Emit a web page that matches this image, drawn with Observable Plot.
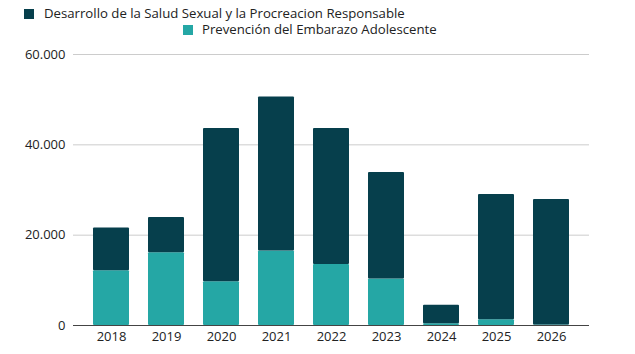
<!DOCTYPE html>
<html><head><meta charset="utf-8">
<script src="https://cdn.jsdelivr.net/npm/d3@7"></script>
<script src="https://cdn.jsdelivr.net/npm/@observablehq/plot@0.6"></script>
<style>
body{margin:0;background:#fff;font-family:"Open Sans",sans-serif;}
#wrap{position:relative;width:635px;height:354px;}
.leg{position:absolute;font-size:13.2px;color:#222;white-space:nowrap;line-height:16px;}
.sw{position:absolute;width:10px;height:10px;}
#chart{position:absolute;left:0;top:42px;}
</style></head>
<body>
<div id="wrap">
  <div class="sw" style="left:24px;top:9px;background:#063f4c"></div>
  <div class="leg" style="left:44px;top:5px;">Desarrollo de la Salud Sexual y la Procreacion Responsable</div>
  <div class="sw" style="left:183px;top:25px;background:#25a7a5"></div>
  <div class="leg" style="left:202px;top:21px;">Prevención del Embarazo Adolescente</div>
  <div id="chart"></div>
</div>
<script>
const years = ["2018","2019","2020","2021","2022","2023","2024","2025","2026"];
const salud = [9500, 7800, 33900, 34100, 30100, 23600, 4100, 27700, 27800];
const embarazo = [12100, 16100, 9700, 16500, 13500, 10300, 400, 1300, 100];
const seriesNames = ["Prevención del Embarazo Adolescente", "Desarrollo de la Salud Sexual y la Procreacion Responsable"];
const colors = ["#25a7a5", "#063f4c"];
const yTicks = [0, 20000, 40000, 60000];

const data = [];
years.forEach((y, i) => {
  data.push({year: y, serie: seriesNames[0], value: embarazo[i]});
  data.push({year: y, serie: seriesNames[1], value: salud[i]});
});
const fmt = d => d3.format(",")(d).replace(/,/g, ".");

const plot = Plot.plot({
  width: 635, height: 312,
  marginLeft: 73, marginRight: 46, marginTop: 12, marginBottom: 29,
  style: {fontFamily: "Open Sans, sans-serif", fontSize: "13px", color: "#222", background: "#fff"},
  x: {domain: years, padding: 0.35, label: null, tickSize: 0, tickPadding: 6},
  y: {domain: [0, 60000], ticks: yTicks, tickFormat: fmt, label: null, grid: false},
  color: {domain: seriesNames, range: colors},
  marks: [
    Plot.ruleY(yTicks.filter(t => t > 0), {stroke: "#ccc", strokeWidth: 1}),
    Plot.axisY({ticks: yTicks, tickFormat: fmt, tickSize: 0, tickPadding: 8, label: null, fontSize: 13}),
    Plot.axisX({tickSize: 0, tickPadding: 6, label: null, fontSize: 13}),
    Plot.barY(data, {x: "year", y: "value", fill: "serie", order: seriesNames, rx: 1}),
    Plot.ruleY([0], {stroke: "#444", strokeWidth: 1})
  ]
});
document.getElementById("chart").appendChild(plot);
</script>
</body></html>
